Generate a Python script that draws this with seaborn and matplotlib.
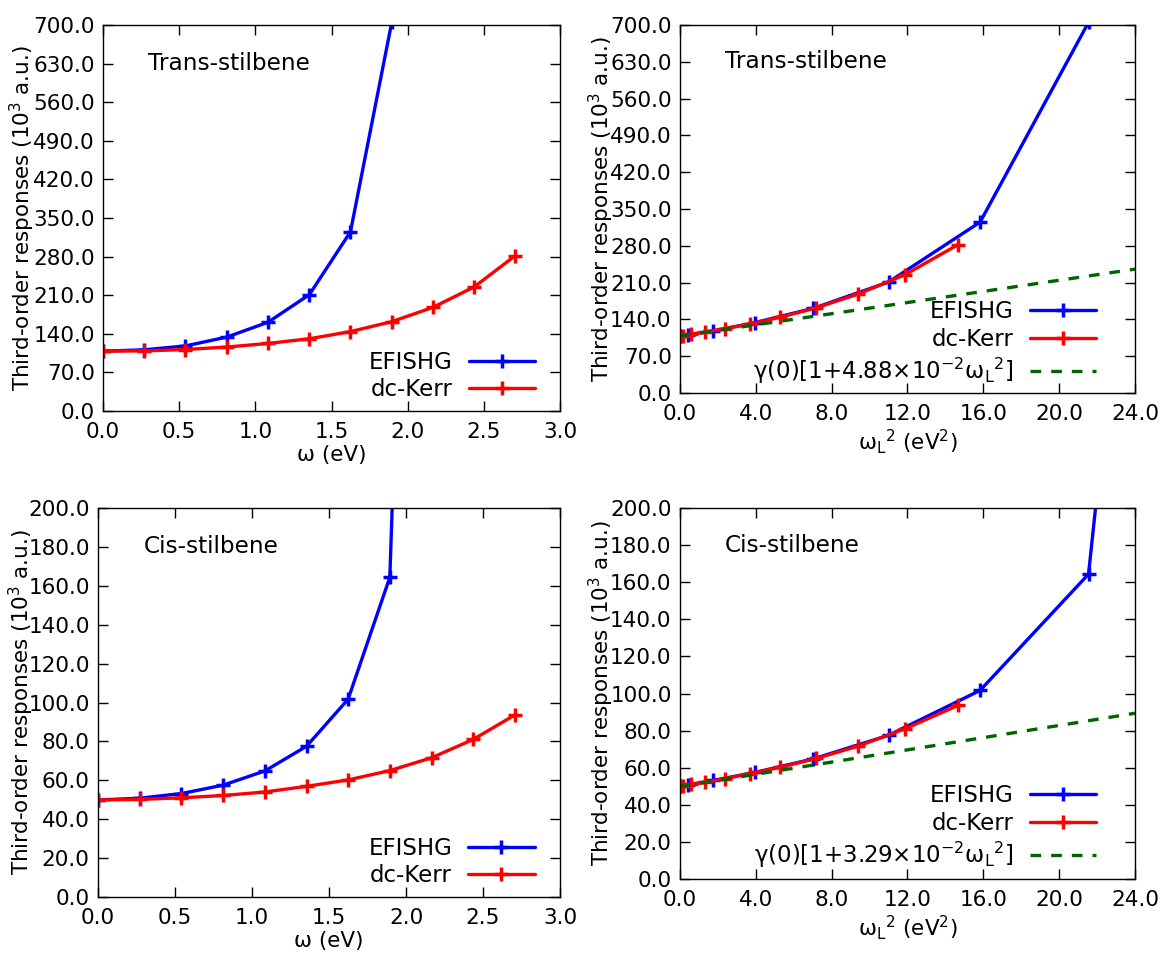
import matplotlib
matplotlib.use('Agg')
import matplotlib.pyplot as plt
import seaborn as sns
from matplotlib.ticker import MultipleLocator, FormatStrFormatter

# Plot style settings
sns.set_style('ticks')
plt.rcParams['font.family'] = ['DejaVu Sans']
plt.rcParams['mathtext.default'] = 'regular'
plt.rcParams['xtick.direction'] = 'in'
plt.rcParams['ytick.direction'] = 'in'
plt.rcParams['xtick.top'] = True
plt.rcParams['ytick.right'] = True
plt.rcParams['axes.edgecolor'] = 'black'
plt.rcParams['axes.linewidth'] = 1.0
for key in ['text.color', 'axes.labelcolor', 'xtick.color', 'ytick.color']:
    plt.rcParams[key] = 'black'

# Photon energy (eV)
omega = [0.0, 0.271, 0.541, 0.812, 1.083, 1.354, 1.624, 1.895, 2.166, 2.436, 2.707]

# omega_L^2 (eV^2) for each process
wl2_efishg = [0.0, 0.44, 1.76, 3.96, 7.03, 11.0, 15.83, 21.55, 28.15]
wl2_kerr = [0.0, 0.147, 0.585, 1.32, 2.35, 3.67, 5.27, 7.18, 9.38, 11.87, 14.66]

# Trans-stilbene (10^3 a.u.)
trans_efishg = [108.5, 111.0, 118.0, 134.0, 161.0, 211.0, 325.0, 705.0]
trans_kerr = [108.5, 109.0, 111.5, 116.0, 122.5, 131.0, 144.0, 162.0, 188.0, 225.0, 282.0]
trans_fit_x = [0.0, 24.0]
trans_fit_y = [108.5, 235.6]

# Cis-stilbene (10^3 a.u.)
cis_efishg = [49.9, 50.8, 53.2, 57.5, 64.8, 77.5, 101.7, 164.4, 800.0]
cis_kerr = [49.9, 50.2, 51.0, 52.2, 54.0, 56.9, 60.2, 65.0, 71.6, 81.0, 93.6]
cis_fit_x = [0.0, 24.0]
cis_fit_y = [49.9, 89.4]

blue = '#0000ff'
red = '#ff0000'
green = '#006400'
fs = 15.5
ylab = 'Third-order responses (10$^{3}$ a.u.)'
fit_lab = '\u03b3(0)[1+{}\u00d710$^{{-2}}$\u03c9$_{{L}}$$^{{2}}$]'

fig = plt.figure(figsize=(11.63, 9.56), dpi=100)
ax_tl = fig.add_axes([0.0886, 0.5701, 0.3930, 0.4037])
ax_tr = fig.add_axes([0.5847, 0.5889, 0.3912, 0.3850])
ax_bl = fig.add_axes([0.0843, 0.0617, 0.3972, 0.4069])
ax_br = fig.add_axes([0.5847, 0.0805, 0.3912, 0.3880])


def draw(ax, x1, y1, x2, y2, anchor, fit=None, fit_text=None):
    for xs, ys, col, lab in [(x1, y1, blue, 'EFISHG'), (x2, y2, red, 'dc-Kerr')]:
        sns.lineplot(x=xs[:len(ys)], y=ys, ax=ax, color=col, label=lab,
                     marker='+', markersize=10, markeredgewidth=2.5,
                     markeredgecolor=col, linewidth=2.4, estimator=None, sort=False)
    if fit is not None:
        ax.plot(fit[0], fit[1], color=green, linestyle=(0, (3.2, 3.0)), linewidth=2.4,
                label=fit_text)
    ax.legend(loc='lower right', bbox_to_anchor=anchor, frameon=False, markerfirst=False,
              fontsize=16.5, handlelength=2.9, labelspacing=0.2, handletextpad=0.7,
              numpoints=1, borderaxespad=0, borderpad=0)


def style(ax, xmax, xstep, ymax, ystep, xlabel, title, ylab_x):
    ax.set_xlim(0, xmax)
    ax.set_ylim(0, ymax)
    ax.xaxis.set_major_locator(MultipleLocator(xstep))
    ax.yaxis.set_major_locator(MultipleLocator(ystep))
    ax.xaxis.set_major_formatter(FormatStrFormatter('%.1f'))
    ax.yaxis.set_major_formatter(FormatStrFormatter('%.1f'))
    ax.tick_params(labelsize=fs, length=7, width=1)
    ax.tick_params(axis='y', pad=6)
    ax.tick_params(axis='x', pad=8)
    ax.set_xlabel(xlabel, fontsize=fs, labelpad=2)
    ax.set_ylabel(ylab, fontsize=fs)
    ax.yaxis.set_label_coords(ylab_x, 0.5)
    ax.text(0.098, 0.9, title, transform=ax.transAxes, fontsize=16.7,
            ha='left', va='center')
    for s in ax.spines.values():
        s.set_visible(True)
        s.set_color('black')


draw(ax_tl, omega, trans_efishg, omega, trans_kerr, (0.945, 0.025))
style(ax_tl, 3.0, 0.5, 700, 70, '\u03c9 (eV)', 'Trans-stilbene', -0.145)

draw(ax_tr, wl2_efishg, trans_efishg, wl2_kerr, trans_kerr, (0.915, 0.02),
     fit=(trans_fit_x, trans_fit_y), fit_text=fit_lab.format('4.88'))
style(ax_tr, 24.0, 4.0, 700, 70, '\u03c9$_{L}$$^{2}$ (eV$^{2}$)', 'Trans-stilbene', -0.14)

draw(ax_bl, omega, cis_efishg, omega, cis_kerr, (0.945, 0.025))
style(ax_bl, 3.0, 0.5, 200, 20, '\u03c9 (eV)', 'Cis-stilbene', -0.135)

draw(ax_br, wl2_efishg, cis_efishg, wl2_kerr, cis_kerr, (0.915, 0.025),
     fit=(cis_fit_x, cis_fit_y), fit_text=fit_lab.format('3.29'))
style(ax_br, 24.0, 4.0, 200, 20, '\u03c9$_{L}$$^{2}$ (eV$^{2}$)', 'Cis-stilbene', -0.14)

fig.savefig('out.png', dpi=100, facecolor='white')
